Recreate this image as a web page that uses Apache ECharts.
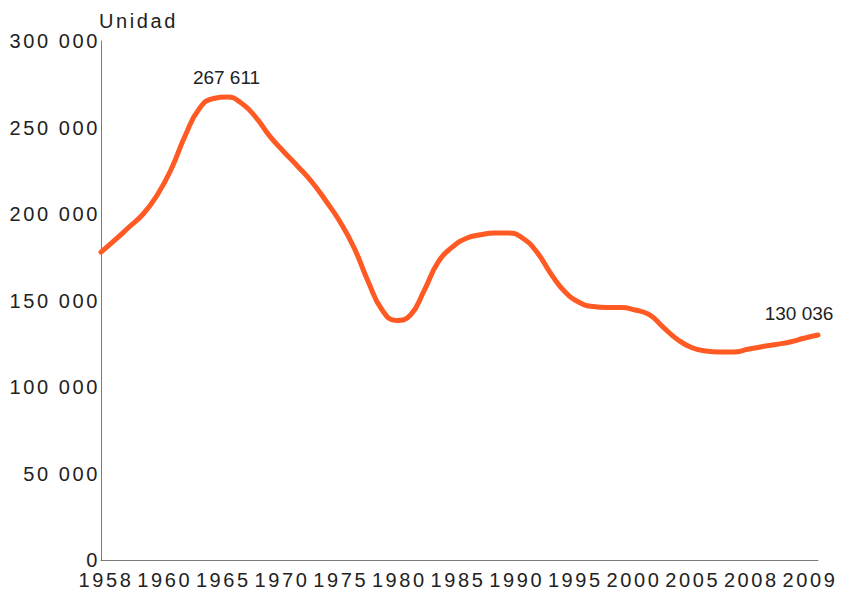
<!DOCTYPE html>
<html>
<head>
<meta charset="utf-8">
<script src="https://cdn.jsdelivr.net/npm/echarts@6/dist/echarts.min.js"></script>
<style>
  html, body {margin: 0; padding: 0; background: #fff;}
  #chart {width: 851px; height: 592px;}
  /* axis texts in the reference are letter-spaced */
  #chart text[style*="Arial"] {letter-spacing: 2.6px;}
</style>
</head>
<body>
<div id="chart"></div>
<script>
const years = [
  1958, 1959, 1960, 1961, 1962, 1963, 1964, 1965, 1966, 1967,
  1968, 1969, 1970, 1971, 1972, 1973, 1974, 1975, 1976, 1977,
  1978, 1979, 1980, 1981, 1982, 1983, 1984, 1985, 1986, 1987,
  1988, 1989, 1990, 1991, 1992, 1993, 1994, 1995, 1996, 1997,
  1998, 1999, 2000, 2001, 2002, 2003, 2004, 2005, 2006, 2007,
  2008, 2009
];
const units = [
  178000, 185000, 192500, 200000, 211000, 226000, 245500, 261000, 266800, 267611,
  264000, 256000, 245000, 236000, 227500, 218500, 207500, 195500, 180500, 161000,
  144500, 138500, 141500, 156000, 172500, 181000, 186000, 188000, 189000, 189000,
  186000, 178000, 165500, 155000, 149000, 146500, 146000, 146000, 144500, 141800,
  134500, 127500, 122800, 120800, 120200, 120200, 121800, 123300, 124600, 126000,
  128200, 130036
];
const tickYears = ['1958', '1960', '1965', '1970', '1975', '1980', '1985', '1990', '1995', '2000', '2005', '2008', '2009'];
const labelledYears = [1967, 2009];

const fmt = v => String(v).replace(/\B(?=(\d{3})+(?!\d))/g, ' ');

const axisText = {color: '#222', fontSize: 20, fontFamily: 'Arial'};

const chart = echarts.init(document.getElementById('chart'), null, {renderer: 'svg'});
chart.setOption({
  animation: false,
  grid: [
    {left: 101, right: 33, top: 41, bottom: 32},
    {left: 106, right: 41, top: 41, bottom: 32}
  ],
  xAxis: [
    {
      type: 'value', gridIndex: 0, min: 1958, max: 2009,
      axisLine: {show: true, onZero: false, lineStyle: {color: '#7a7a7a', width: 1}},
      axisTick: {show: false},
      axisLabel: {show: false},
      splitLine: {show: false}
    },
    {
      type: 'category', gridIndex: 1, data: tickYears, boundaryGap: false,
      axisLine: {show: false},
      axisTick: {show: false},
      splitLine: {show: false},
      axisLabel: {...axisText, margin: 10, interval: 0}
    }
  ],
  yAxis: [
    {
      type: 'value', gridIndex: 0, min: 0, max: 300000, interval: 50000,
      name: 'Unidad',
      nameLocation: 'end',
      nameGap: 10,
      nameTextStyle: {...axisText, align: 'left', verticalAlign: 'bottom', padding: [0, 0, 0, -2]},
      axisLine: {show: true, lineStyle: {color: '#7a7a7a', width: 1}},
      axisTick: {show: false},
      splitLine: {show: false},
      axisLabel: {...axisText, margin: 1, formatter: fmt}
    },
    {type: 'value', gridIndex: 1, show: false}
  ],
  series: [{
    type: 'line',
    xAxisIndex: 0,
    yAxisIndex: 0,
    smooth: 0.5,
    showSymbol: true,
    showAllSymbol: true,
    symbol: 'circle',
    symbolSize: 0.1,
    itemStyle: {color: 'rgba(0,0,0,0)'},
    lineStyle: {color: '#ff5a24', width: 5, cap: 'round', join: 'round'},
    label: {show: false},
    data: years.map((y, i) => {
      const item = {value: [y, units[i]]};
      if (labelledYears.includes(y)) {
        item.label = {
          show: true,
          position: 'top',
          distance: 10,
          offset: y === 2009 ? [-19, -2] : [-1, 0],
          color: '#222',
          fontSize: 19,
          fontFamily: 'Liberation Sans',
          formatter: p => fmt(p.value[1])
        };
      }
      return item;
    })
  }]
});
</script>
</body>
</html>
